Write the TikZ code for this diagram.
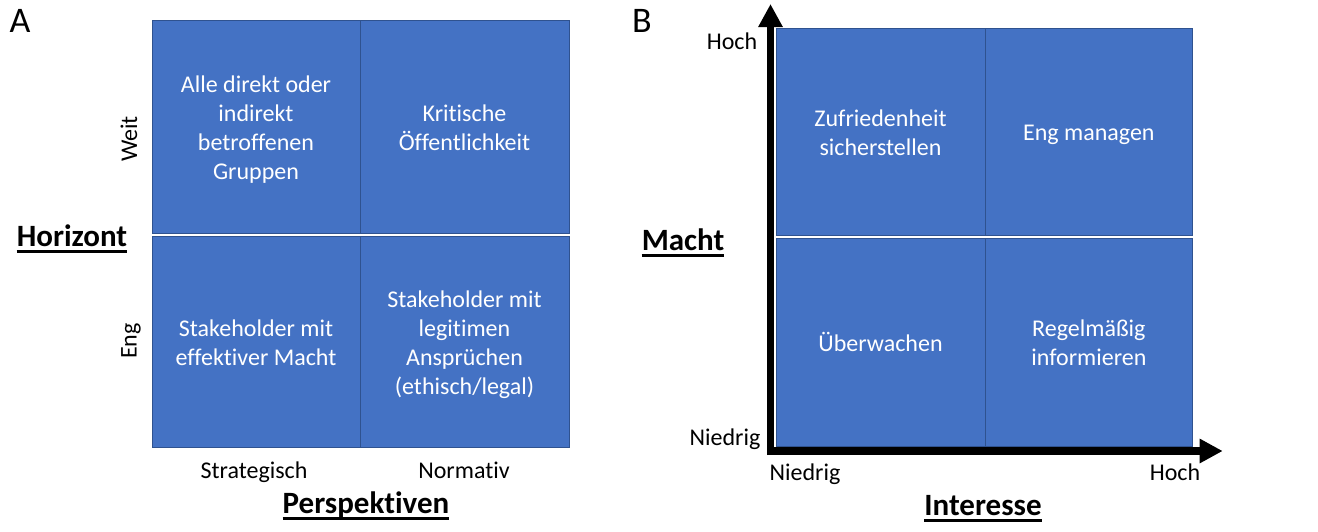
\documentclass[tikz,border=0pt]{standalone}
\usepackage{fontspec}
\setmainfont{Carlito}[Ligatures={NoCommon}]
\usetikzlibrary{arrows.meta}
\definecolor{boxblue}{HTML}{4472C4}
\definecolor{boxline}{HTML}{2F528F}
\newcommand\topstrut{\rule{0pt}{24.5pt}}
\newcommand\botstrut{\rule[-6.5pt]{0pt}{6.5pt}}
\tikzset{
  cell/.style={draw=boxline, fill=boxblue, line width=0.8pt, text=white, align=center,
    font=\fontsize{24}{29}\selectfont, inner sep=0pt, outer sep=0pt},
  lbl/.style={font=\fontsize{24}{29}\selectfont, inner sep=0pt, align=center},
  bl/.style={font=\fontsize{24}{29}\selectfont, inner sep=0pt, anchor=base},
  big/.style={font=\fontsize{31}{36}\bfseries, inner sep=0pt, anchor=base},
  panel/.style={font=\fontsize{36}{40}\selectfont, inner sep=0pt},
  axis/.style={line width=7.6pt, -{Triangle[length=23pt,width=23pt]}},
  uline/.style={line width=2.4pt}
}
\begin{document}
\begin{tikzpicture}[x=1pt,y=-1pt]
\useasboundingbox (0,0) rectangle (1318,531);
% Panel A
\node[panel] (pa) at (20,21) {A};
\node[cell, minimum width=208pt, minimum height=213pt] (a11) at (256,126.5) {\topstrut Alle direkt oder\\indirekt\\betroffenen\\Gruppen\botstrut};
\node[cell, minimum width=209pt, minimum height=213pt] (a12) at (464.5,126.5) {\topstrut Kritische\\Öffentlichkeit\botstrut};
\node[cell, minimum width=208pt, minimum height=211pt] (a21) at (256,341.5) {\topstrut Stakeholder mit\\effektiver Macht\botstrut};
\node[cell, minimum width=209pt, minimum height=211pt] (a22) at (464.5,341.5) {\topstrut Stakeholder mit\\legitimen\\Ansprüchen\\(ethisch/legal)\botstrut};
\node[lbl, rotate=90] (weit) at (129,139) {Weit};
\node[lbl, rotate=90] (eng) at (131,341) {Eng};
\node[bl] (strat) at (254,478) {Strategisch};
\node[bl] (norm) at (464,478) {Normativ};
\node[big] (hor) at (72,246) {Horizont};
\draw[uline] ([yshift=-5.5pt]hor.base west) -- ([yshift=-5.5pt]hor.base east);
\node[big] (persp) at (366,513) {Perspektiven};
\draw[uline] ([yshift=-5.5pt]persp.base west) -- ([yshift=-5.5pt]persp.base east);
% Panel B
\node[panel] (pb) at (642,21) {B};
\node[cell, minimum width=209pt, minimum height=207pt] (b11) at (880.5,131.5) {\topstrut Zufriedenheit\\sicherstellen\botstrut};
\node[cell, minimum width=207.7pt, minimum height=207pt] (b12) at (1088.85,131.5) {\topstrut Eng managen\botstrut};
\node[cell, minimum width=209pt, minimum height=208pt] (b21) at (880.5,342) {\topstrut Überwachen\botstrut};
\node[cell, minimum width=207.7pt, minimum height=208pt] (b22) at (1088.85,342) {\topstrut Regelmäßig\\informieren\botstrut};
\coordinate (vstart) at (770.5,455);
\coordinate (vend) at (770.5,4);
\coordinate (hstart) at (767,451);
\coordinate (hend) at (1222.7,451);
\draw[axis] (vstart) -- (vend);
\draw[axis] (hstart) -- (hend);
\node[bl] (yhi) at (732,49) {Hoch};
\node[bl] (ylo) at (725,445) {Niedrig};
\node[bl] (xlo) at (805,480) {Niedrig};
\node[bl] (xhi) at (1175,480) {Hoch};
\node[big] (macht) at (683,250) {Macht};
\draw[uline] ([yshift=-5.5pt]macht.base west) -- ([yshift=-5.5pt]macht.base east);
\node[big] (inter) at (983,515) {Interesse};
\draw[uline] ([yshift=-5.5pt]inter.base west) -- ([yshift=-5.5pt]inter.base east);
\end{tikzpicture}
\end{document}
